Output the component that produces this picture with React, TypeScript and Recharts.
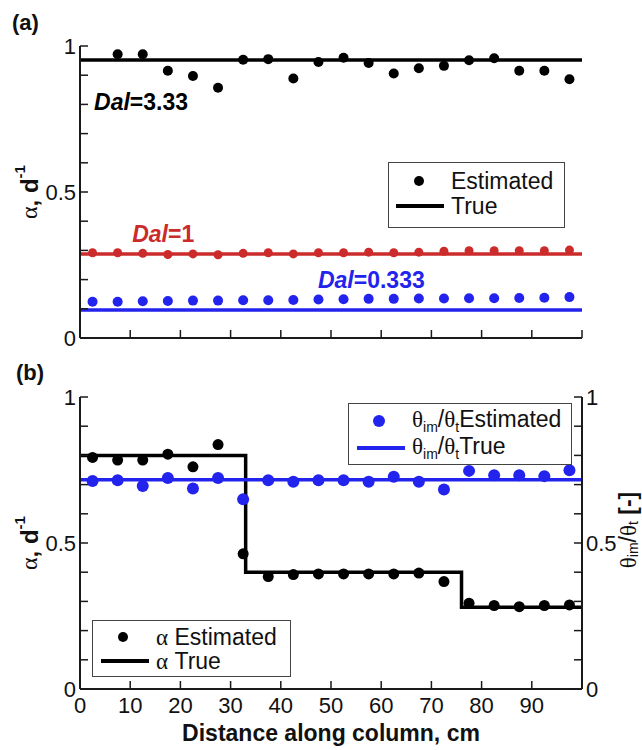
import React from "react";
import { ComposedChart, Line, Scatter, XAxis, YAxis, Legend, ReferenceDot } from "recharts";

// distance along column, cm
const distances = [2.5, 7.5, 12.5, 17.5, 22.5, 27.5, 32.5, 37.5, 42.5, 47.5, 52.5, 57.5, 62.5, 67.5, 72.5, 77.5, 82.5, 87.5, 92.5, 97.5];
// Dal=3.33 has no estimate at the first port
const distancesDal333 = [7.5, 12.5, 17.5, 22.5, 27.5, 32.5, 37.5, 42.5, 47.5, 52.5, 57.5, 62.5, 67.5, 72.5, 77.5, 82.5, 87.5, 92.5, 97.5];

// (a) estimated alpha for three Damkohler numbers
const estDal333 = [0.972, 0.972, 0.915, 0.897, 0.857, 0.953, 0.955, 0.889, 0.945, 0.96, 0.942, 0.906, 0.924, 0.932, 0.951, 0.958, 0.915, 0.915, 0.886];
const estDal1 = [0.292, 0.292, 0.29, 0.286, 0.288, 0.285, 0.29, 0.292, 0.288, 0.292, 0.292, 0.294, 0.292, 0.294, 0.297, 0.299, 0.299, 0.299, 0.299, 0.301];
const estDal0333 = [0.124, 0.124, 0.126, 0.127, 0.128, 0.128, 0.129, 0.129, 0.13, 0.132, 0.133, 0.134, 0.134, 0.135, 0.135, 0.136, 0.136, 0.137, 0.138, 0.14];
const trueDal333 = 0.952;
const trueDal1 = 0.288;
const trueDal0333 = 0.096;
const lineEnds = [0, 100];

// (b) heterogeneous column
const alphaEst = [0.793, 0.784, 0.784, 0.804, 0.761, 0.837, 0.463, 0.385, 0.392, 0.394, 0.394, 0.394, 0.394, 0.397, 0.368, 0.294, 0.286, 0.282, 0.286, 0.288];
const alphaTrueX = [0, 33, 76, 100];
const alphaTrueY = [0.8, 0.4, 0.28, 0.28];
const thetaEst = [0.712, 0.715, 0.695, 0.723, 0.687, 0.723, 0.65, 0.715, 0.71, 0.715, 0.715, 0.71, 0.727, 0.71, 0.683, 0.747, 0.732, 0.732, 0.729, 0.749];
const thetaTrue = 0.717;

const yTicks = [0, 0.1, 0.2, 0.3, 0.4, 0.5, 0.6, 0.7, 0.8, 0.9, 1];
const yTickLabels = [0, 0.5, 1];
const xTicks = [0, 10, 20, 30, 40, 50, 60, 70, 80, 90, 100];
const xTickLabels = [0, 10, 20, 30, 40, 50, 60, 70, 80, 90];

const FONT = "'Liberation Sans', Arial, sans-serif";
const SERIF = "'Liberation Serif', 'Times New Roman', serif";
const AXIS = "#1a1a1a";
const RED = "#cc2b2b";
const BLUE = "#2323ee";
const TICK_FONT = 22;

const toPoints = (xs: number[], ys: number[]) => xs.map((x, i) => ({ x, y: ys[i] }));
const flat = (v: number) => lineEnds.map((x) => ({ x, y: v }));

const dot = (r: number, color: string) => (p: any) => <circle cx={p.cx} cy={p.cy} r={r} fill={color} />;

// inward MATLAB-style ticks, labels only on 0, 0.5, 1
const yTick = (side: "left" | "right", labels: boolean) => (p: any) => {
  const v = p.payload.value;
  const dir = side === "left" ? 1 : -1;
  const show = labels && yTickLabels.includes(v);
  return (
    <g>
      <line x1={p.x} y1={p.y} x2={p.x + dir * 8} y2={p.y} stroke={AXIS} strokeWidth={1.5} />
      {show && (
        <text x={p.x - dir * 4} y={p.y + 8} textAnchor={side === "left" ? "end" : "start"} fontSize={TICK_FONT} fontFamily={FONT} fill="#111">
          {v}
        </text>
      )}
    </g>
  );
};

const xTick = (side: "top" | "bottom", labels: boolean) => (p: any) => {
  const v = p.payload.value;
  const dir = side === "bottom" ? -1 : 1;
  const show = labels && xTickLabels.includes(v);
  return (
    <g>
      <line x1={p.x} y1={p.y} x2={p.x} y2={p.y + dir * 8} stroke={AXIS} strokeWidth={1.5} />
      {show && (
        <text x={p.x} y={p.y + 24} textAnchor="middle" fontSize={TICK_FONT} fontFamily={FONT} fill="#111">
          {v}
        </text>
      )}
    </g>
  );
};

const alphaLabel = (p: any) => {
  const vb = p.viewBox;
  const cx = vb.x + 29;
  const cy = vb.y + vb.height / 2;
  return (
    <text transform={`rotate(-90 ${cx} ${cy})`} x={cx} y={cy} textAnchor="middle" dominantBaseline="central" fontSize={24} fill="#111">
      <tspan fontFamily={SERIF}>α</tspan>
      <tspan fontFamily={FONT} fontWeight="bold">, d</tspan>
      <tspan fontFamily={FONT} fontWeight="bold" fontSize={15} dy={-10}>-1</tspan>
    </text>
  );
};

const thetaLabel = (p: any) => {
  const vb = p.viewBox;
  const cx = vb.x + 46;
  const cy = 170;
  return (
    <text transform={`rotate(-90 ${cx} ${cy})`} x={cx} y={cy} textAnchor="middle" dominantBaseline="central" fontSize={23} fill="#111" fontFamily={FONT}>
      <tspan fontFamily={SERIF}>θ</tspan>
      <tspan fontSize={14} dy={5}>im</tspan>
      <tspan dy={-5}>/</tspan>
      <tspan fontFamily={SERIF}>θ</tspan>
      <tspan fontSize={14} dy={5}>t</tspan>
      <tspan fontWeight="bold" dy={-5}> [-]</tspan>
    </text>
  );
};

const distanceLabel = (p: any) => {
  const vb = p.viewBox;
  return (
    <text x={vb.x + vb.width / 2} y={vb.y + 52} textAnchor="middle" fontSize={23} fontWeight="bold" fontFamily={FONT} fill="#111">
      Distance along column, cm
    </text>
  );
};

const dalLabel = (value: string, color: string) => (p: any) => (
  <text x={p.viewBox.x} y={p.viewBox.y} fill={color} fontSize={23} fontWeight="bold" fontFamily={FONT}>
    <tspan fontStyle="italic">Dal</tspan>
    <tspan>={value}</tspan>
  </text>
);

const boxStyle: React.CSSProperties = {
  position: "absolute",
  border: "1.5px solid #444",
  background: "#fff",
  boxSizing: "border-box",
  fontFamily: FONT,
  color: "#111",
};

const rowStyle = (left: number, top: number): React.CSSProperties => ({
  position: "absolute",
  left,
  top,
  fontSize: 23,
  lineHeight: "24px",
  whiteSpace: "nowrap",
});

const Marker = ({ kind, color, left, top, r = 5 }: any) =>
  kind === "dot" ? (
    <svg style={{ position: "absolute", left: left - r, top: top - r }} width={2 * r} height={2 * r}>
      <circle cx={r} cy={r} r={r} fill={color} />
    </svg>
  ) : (
    <div style={{ position: "absolute", left, top: top - 2, width: 48, height: 4, background: color }} />
  );

const Theta = () => (
  <>
    <span style={{ fontFamily: SERIF }}>θ</span>
    <span style={{ fontSize: 14, position: "relative", top: 5 }}>im</span>/
    <span style={{ fontFamily: SERIF }}>θ</span>
    <span style={{ fontSize: 14, position: "relative", top: 5 }}>t</span>
  </>
);

const legendA = () => (
  <div style={{ ...boxStyle, left: 0, top: 0, width: 177, height: 66 }}>
    <Marker kind="dot" color="#000" left={30} top={18} />
    <div style={rowStyle(62, 6)}>Estimated</div>
    <Marker kind="line" color="#000" left={7} top={43} />
    <div style={rowStyle(62, 31)}>True</div>
  </div>
);

const legendB = () => (
  <div style={{ position: "absolute", left: 0, top: 0, width: 642, height: 390 }}>
    <div style={{ ...boxStyle, left: 348, top: 43, width: 224, height: 62 }}>
      <Marker kind="dot" color={BLUE} left={30} top={17} r={6} />
      <div style={rowStyle(63, 3)}>
        <Theta />Estimated
      </div>
      <Marker kind="line" color={BLUE} left={8} top={44} />
      <div style={rowStyle(63, 30)}>
        <Theta />True
      </div>
    </div>
    <div style={{ ...boxStyle, left: 92, top: 260, width: 199, height: 57 }}>
      <Marker kind="dot" color="#000" left={30} top={16} />
      <div style={rowStyle(63, 4)}>
        <span style={{ fontFamily: SERIF }}>α</span> Estimated
      </div>
      <Marker kind="line" color="#000" left={8} top={40} />
      <div style={rowStyle(63, 28)}>
        <span style={{ fontFamily: SERIF }}>α</span> True
      </div>
    </div>
  </div>
);

const panelTag: React.CSSProperties = {
  position: "absolute",
  fontFamily: FONT,
  fontWeight: 700,
  fontSize: 22,
  lineHeight: 1,
  color: "#111",
};

const axisLine = { stroke: AXIS, strokeWidth: 2 };

const App: React.FC = () => {
  return (
    <div style={{ position: "absolute", left: 0, top: 0, width: 642, height: 750, background: "#fff", fontFamily: FONT }}>
      <div style={{ position: "absolute", left: 0, top: 0 }}>
        <ComposedChart width={642} height={360} margin={{ top: 46, right: 60, bottom: 0, left: 0 }}>
          <XAxis xAxisId="b" dataKey="x" type="number" domain={[0, 100]} ticks={xTicks} interval={0} height={22} tickSize={0} tickMargin={0} tick={xTick("bottom", false)} axisLine={axisLine} tickLine={false} />
          <XAxis xAxisId="t" dataKey="x" type="number" orientation="top" domain={[0, 100]} ticks={xTicks} interval={0} height={0} tickSize={0} tickMargin={0} tick={xTick("top", false)} axisLine={axisLine} tickLine={false} />
          <YAxis yAxisId="l" dataKey="y" type="number" domain={[0, 1]} ticks={yTicks} interval={0} width={80} tickSize={0} tickMargin={0} tick={yTick("left", true)} axisLine={axisLine} tickLine={false} label={alphaLabel} />
          <YAxis yAxisId="r" dataKey="y" type="number" orientation="right" domain={[0, 1]} ticks={yTicks} interval={0} width={0} tickSize={0} tickMargin={0} tick={yTick("right", false)} axisLine={axisLine} tickLine={false} />

          <Line xAxisId="b" yAxisId="l" data={flat(trueDal333)} dataKey="y" stroke="#000" strokeWidth={3.5} dot={false} isAnimationActive={false} />
          <Line xAxisId="b" yAxisId="l" data={flat(trueDal1)} dataKey="y" stroke={RED} strokeWidth={3.5} dot={false} isAnimationActive={false} />
          <Line xAxisId="b" yAxisId="l" data={flat(trueDal0333)} dataKey="y" stroke={BLUE} strokeWidth={3.5} dot={false} isAnimationActive={false} />

          <Scatter xAxisId="b" yAxisId="l" data={toPoints(distancesDal333, estDal333)} dataKey="y" shape={dot(5, "#000")} isAnimationActive={false} />
          <Scatter xAxisId="b" yAxisId="l" data={toPoints(distances, estDal1)} dataKey="y" shape={dot(4.5, RED)} isAnimationActive={false} />
          <Scatter xAxisId="b" yAxisId="l" data={toPoints(distances, estDal0333)} dataKey="y" shape={dot(5, BLUE)} isAnimationActive={false} />

          <ReferenceDot xAxisId="b" yAxisId="l" x={2.8} y={0.781} r={0} fill="none" stroke="none" label={dalLabel("3.33", "#000")} />
          <ReferenceDot xAxisId="b" yAxisId="l" x={10.4} y={0.329} r={0} fill="none" stroke="none" label={dalLabel("1", RED)} />
          <ReferenceDot xAxisId="b" yAxisId="l" x={47.4} y={0.171} r={0} fill="none" stroke="none" label={dalLabel("0.333", BLUE)} />

          <Legend layout="vertical" verticalAlign="middle" align="center" wrapperStyle={{ left: 388, top: 162, width: 177, height: 66 }} content={legendA} />
        </ComposedChart>
      </div>

      <div style={{ position: "absolute", left: 0, top: 360 }}>
        <ComposedChart width={642} height={390} margin={{ top: 37, right: 0, bottom: 0, left: 0 }}>
          <XAxis xAxisId="b" dataKey="x" type="number" domain={[0, 100]} ticks={xTicks} interval={0} height={61} tickSize={0} tickMargin={0} tick={xTick("bottom", true)} axisLine={axisLine} tickLine={false} label={distanceLabel} />
          <XAxis xAxisId="t" dataKey="x" type="number" orientation="top" domain={[0, 100]} ticks={xTicks} interval={0} height={0} tickSize={0} tickMargin={0} tick={xTick("top", false)} axisLine={axisLine} tickLine={false} />
          <YAxis yAxisId="l" dataKey="y" type="number" domain={[0, 1]} ticks={yTicks} interval={0} width={80} tickSize={0} tickMargin={0} tick={yTick("left", true)} axisLine={axisLine} tickLine={false} label={alphaLabel} />
          <YAxis yAxisId="r" dataKey="y" type="number" orientation="right" domain={[0, 1]} ticks={yTicks} interval={0} width={60} tickSize={0} tickMargin={0} tick={yTick("right", true)} axisLine={axisLine} tickLine={false} label={thetaLabel} />

          <Line xAxisId="b" yAxisId="l" data={toPoints(alphaTrueX, alphaTrueY)} dataKey="y" type="stepAfter" stroke="#000" strokeWidth={3.5} dot={false} isAnimationActive={false} />
          <Line xAxisId="b" yAxisId="r" data={flat(thetaTrue)} dataKey="y" stroke={BLUE} strokeWidth={3.5} dot={false} isAnimationActive={false} />
          <Scatter xAxisId="b" yAxisId="l" data={toPoints(distances, alphaEst)} dataKey="y" shape={dot(5.5, "#000")} isAnimationActive={false} />
          <Scatter xAxisId="b" yAxisId="r" data={toPoints(distances, thetaEst)} dataKey="y" shape={dot(6, BLUE)} isAnimationActive={false} />

          <Legend layout="vertical" verticalAlign="middle" align="center" wrapperStyle={{ left: 0, top: 0, width: 642, height: 390, pointerEvents: "none" }} content={legendB} />
        </ComposedChart>
      </div>

      <div style={{ ...panelTag, left: 12, top: 12 }}>(a)</div>
      <div style={{ ...panelTag, left: 16, top: 362 }}>(b)</div>
    </div>
  );
};

export default App;
